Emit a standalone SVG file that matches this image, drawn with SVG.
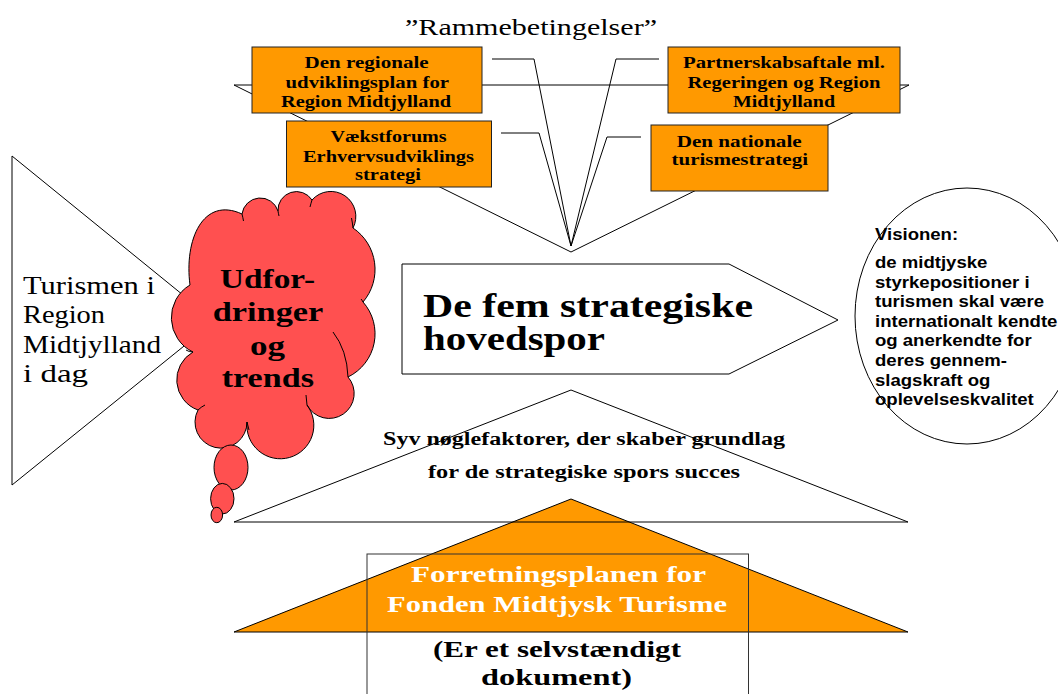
<svg xmlns="http://www.w3.org/2000/svg" width="1058" height="694" viewBox="0 0 1058 694">
<style>
.ln{fill:none;stroke:#000;stroke-width:1}
.box{fill:#FF9900;stroke:#222;stroke-width:1}
.serif{font-family:"Liberation Serif","Times New Roman",serif}
.bt{font-family:"Liberation Serif","Times New Roman",serif;font-weight:bold;font-size:16px;fill:#000}
.cloud{fill:#FF5050;stroke:#000;stroke-width:1}
.vis{font-family:"Liberation Sans",Arial,sans-serif;font-weight:bold;font-size:16px;fill:#000}
</style>
<rect width="1058" height="694" fill="#fff"/>

<g id="funnel">
<polygon class="ln" points="234,85 909,85 571,252"/>
</g>

<g id="connectors">
<polyline class="ln" points="492,59 534,59 571,246"/>
<polyline class="ln" points="501,133 539,133 571,246"/>
<polyline class="ln" points="659,59 616,59 571,246"/>
<polyline class="ln" points="641,137 607,137 571,246"/>
</g>

<text class="serif" x="405" y="35" font-size="23" textLength="252" lengthAdjust="spacingAndGlyphs" fill="#000">”Rammebetingelser”</text>

<g id="box-regional">
<rect class="box" x="252" y="47" width="230" height="66"/>
<text class="bt" x="304.6" y="68" textLength="124" lengthAdjust="spacingAndGlyphs">Den regionale</text>
<text class="bt" x="285.5" y="88" textLength="163.5" lengthAdjust="spacingAndGlyphs">udviklingsplan for</text>
<text class="bt" x="281" y="107" textLength="170" lengthAdjust="spacingAndGlyphs">Region Midtjylland</text>
</g>

<g id="box-vaekstforum">
<rect class="box" x="286.5" y="121" width="205" height="66"/>
<text class="bt" x="330.6" y="142" textLength="116" lengthAdjust="spacingAndGlyphs">Vækstforums</text>
<text class="bt" x="303" y="161.5" textLength="171" lengthAdjust="spacingAndGlyphs">Erhvervsudviklings</text>
<text class="bt" x="355" y="180" textLength="66" lengthAdjust="spacingAndGlyphs">strategi</text>
</g>

<g id="box-partnerskab">
<rect class="box" x="668" y="47" width="232" height="66"/>
<text class="bt" x="683" y="68" textLength="202" lengthAdjust="spacingAndGlyphs">Partnerskabsaftale ml.</text>
<text class="bt" x="687.5" y="88" textLength="193" lengthAdjust="spacingAndGlyphs">Regeringen og Region</text>
<text class="bt" x="733" y="107" textLength="102" lengthAdjust="spacingAndGlyphs">Midtjylland</text>
</g>

<g id="box-national">
<rect class="box" x="651" y="125" width="177" height="66"/>
<text class="bt" x="676.7" y="146.5" textLength="125" lengthAdjust="spacingAndGlyphs">Den nationale</text>
<text class="bt" x="671.5" y="165" textLength="136.5" lengthAdjust="spacingAndGlyphs">turismestrategi</text>
</g>

<g id="turismen">
<polygon points="12,156 12,485 215,321" fill="#fff" stroke="#000" stroke-width="1"/>
<g class="serif" font-size="25" fill="#000">
<text x="23" y="294" textLength="132" lengthAdjust="spacingAndGlyphs">Turismen i</text>
<text x="23" y="323" textLength="82" lengthAdjust="spacingAndGlyphs">Region</text>
<text x="23" y="352.5" textLength="138" lengthAdjust="spacingAndGlyphs">Midtjylland</text>
<text x="23" y="381.5" textLength="65" lengthAdjust="spacingAndGlyphs">i dag</text>
</g>
</g>

<g id="udfordringer">
<path class="cloud" d="M190,285 C184,240 203,196 242,214 A18.5,18.5 0 0 1 278,211 A18.5,18.5 0 0 1 312,200 A25,25 0 0 1 353,228 A50,50 0 0 1 363,302 A48,48 0 0 1 348,377 A25,25 0 1 1 307,405 A33.5,33.5 0 1 1 247,422 A26,26 0 1 1 198,410 A32,32 0 0 1 193,352 A38,38 0 0 1 190,285 Z"/>
<path class="ln" d="M242,214 Q243,218 243.5,221 M278,211 Q278.5,214 279,216 M312,200 Q311,203 310,207 M353,228 Q352.5,223 351.5,218 M363,302 Q362,300 361,299 M333,332 Q347,350 348,377 M307,405 Q306.5,400 306,395 M247,422 Q248,426 249,430 M198,410 Q201,407 205,405 M193,352 Q189,352 186,350"/>
<ellipse class="cloud" cx="231" cy="467.5" rx="17" ry="22.5"/>
<ellipse class="cloud" cx="222.3" cy="498.7" rx="11.7" ry="15.3"/>
<ellipse class="cloud" cx="216.8" cy="515" rx="5.8" ry="7.7"/>
<g class="serif" font-weight="bold" font-size="28" fill="#000">
<text x="220" y="288" textLength="95" lengthAdjust="spacingAndGlyphs">Udfor-</text>
<text x="212.7" y="321" textLength="110.7" lengthAdjust="spacingAndGlyphs">dringer</text>
<text x="250" y="355" textLength="35" lengthAdjust="spacingAndGlyphs">og</text>
<text x="221.7" y="387" textLength="92.3" lengthAdjust="spacingAndGlyphs">trends</text>
</g>
</g>

<g id="hovedspor">
<polygon points="402,264 729,264 838,320 729,374 402,374" fill="#fff" stroke="#000" stroke-width="1"/>
<g class="serif" font-weight="bold" font-size="33" fill="#000">
<text x="423" y="317" textLength="330" lengthAdjust="spacingAndGlyphs">De fem strategiske</text>
<text x="423" y="350" textLength="182" lengthAdjust="spacingAndGlyphs">hovedspor</text>
</g>
</g>

<g id="visionen">
<ellipse cx="967" cy="316" rx="112" ry="128" fill="#fff" stroke="#000" stroke-width="1"/>
<g transform="translate(875 0) scale(1.16 1)">
<text class="vis" x="0" y="240">Visionen:</text>
<text class="vis" x="0" y="268">de midtjyske</text>
<text class="vis" x="0" y="287.6">styrkepositioner i</text>
<text class="vis" x="0" y="307.2">turismen skal være</text>
<text class="vis" x="0" y="326.8">internationalt kendte</text>
<text class="vis" x="0" y="346.4">og anerkendte for</text>
<text class="vis" x="0" y="366">deres gennem-</text>
<text class="vis" x="0" y="385.6">slagskraft og</text>
<text class="vis" x="0" y="405.2">oplevelseskvalitet</text>
</g>
</g>

<g id="forretningsplan">
<polygon points="234,632 571,499 908,632" fill="#FF9900" stroke="#000" stroke-width="1"/>
</g>

<g id="noeglefaktorer">
<polygon class="ln" points="234,522 571,390 908,522"/>
<g class="serif" font-weight="bold" font-size="18" fill="#000">
<text x="383" y="445" textLength="402" lengthAdjust="spacingAndGlyphs">Syv nøglefaktorer, der skaber grundlag</text>
<text x="428" y="478" textLength="312" lengthAdjust="spacingAndGlyphs">for de strategiske spors succes</text>
</g>
</g>

<g id="dokument">
<rect x="367" y="554" width="381.5" height="160" fill="none" stroke="#333" stroke-width="1"/>
<g class="serif" font-weight="bold" font-size="23">
<text x="411" y="582" textLength="295" lengthAdjust="spacingAndGlyphs" fill="#fff">Forretningsplanen for</text>
<text x="387" y="612" textLength="340" lengthAdjust="spacingAndGlyphs" fill="#fff">Fonden Midtjysk Turisme</text>
<text x="433" y="657" textLength="248" lengthAdjust="spacingAndGlyphs" fill="#000">(Er et selvstændigt</text>
<text x="481" y="685" textLength="151" lengthAdjust="spacingAndGlyphs" fill="#000">dokument)</text>
</g>
</g>
</svg>
